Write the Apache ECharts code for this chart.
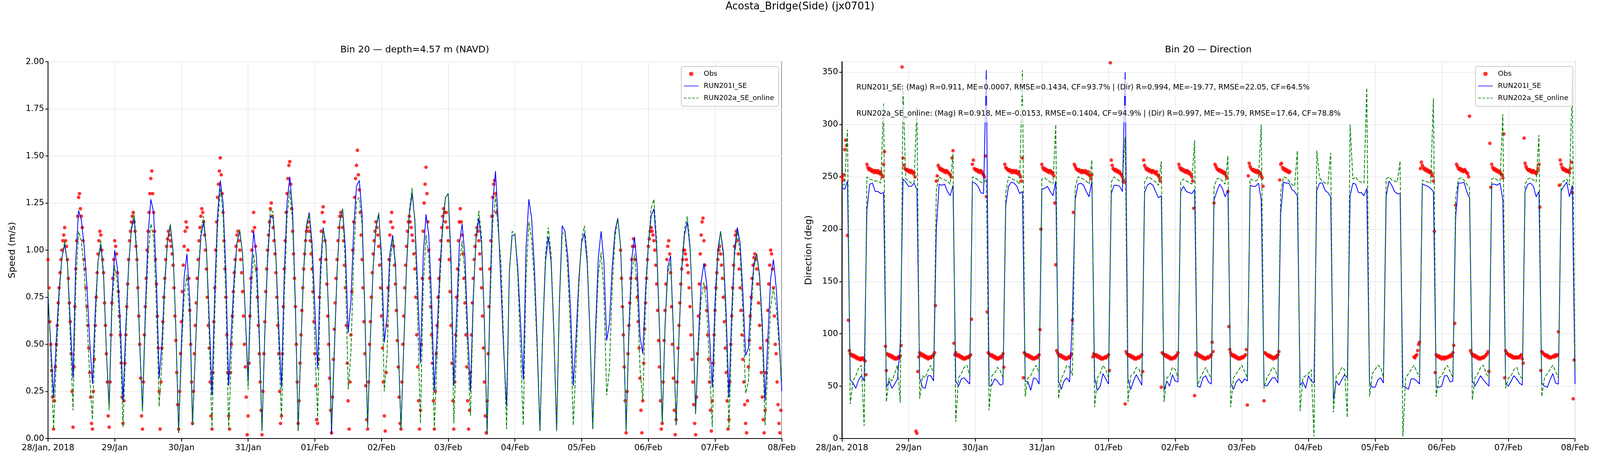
<!DOCTYPE html>
<html>
<head>
<meta charset="utf-8">
<title>Acosta_Bridge(Side) (jx0701)</title>
<script src="https://cdn.jsdelivr.net/npm/echarts@6/dist/echarts.min.js"></script>
<style>
  html, body { margin: 0; padding: 0; background: #fff; width: 100%; height: 100%; overflow: hidden; }
  #chart { width: 100vw; height: 100vh; }
</style>
</head>
<body>
<div id="chart"></div>
<script>
// x axis = hours since 28/Jan/2018 00:00, one tick per day
const tickLabels = ['28/Jan, 2018', '29/Jan', '30/Jan', '31/Jan', '01/Feb', '02/Feb',
  '03/Feb', '04/Feb', '05/Feb', '06/Feb', '07/Feb', '08/Feb'];

// model output, hourly (h0 .. h264)
const run201Speed = [
  .75,.5,.22,.53,.79,.96,1.03,.93,.62,.32,.95,1.21,
  1.16,1.02,.81,.52,.29,.68,.94,1.03,.86,.46,.17,.74,
  1.0,.9,.62,.2,.59,.92,1.11,1.17,.96,.5,.15,.67,
  1.08,1.27,1.2,.85,.32,.51,.83,1.05,1.13,.99,.58,.03,
  .51,.86,.98,.74,.07,.45,.83,1.07,1.15,1.01,.64,.23,
  .78,1.19,1.37,1.25,.88,.28,.58,.86,1.04,1.1,.98,.66,
  .3,.85,1.1,.96,.57,.04,.55,.94,1.18,1.17,.97,.6,
  .27,.87,1.25,1.39,1.21,.72,.04,.5,.9,1.13,1.2,1.04,
  .7,.37,.9,1.12,1.03,.64,.02,.45,.88,1.15,1.22,1.01,
  .56,.73,1.12,1.34,1.37,1.19,.68,.06,.54,.91,1.12,1.19,
  .97,.51,.65,.98,1.08,.93,.51,.05,.49,.91,1.19,1.3,
  1.16,.8,.4,.97,1.19,1.08,.74,.25,.57,.9,1.14,1.28,
  1.3,.96,.28,.66,1.03,1.14,.97,.57,.25,.75,1.06,1.17,
  1.03,.62,.02,.75,1.25,1.42,1.15,.8,.45,.17,.89,1.08,
  1.08,.91,.62,.31,1.01,1.27,1.17,.91,.51,.04,.56,.94,
  1.07,.94,.56,.04,.73,1.13,1.1,.97,.69,.28,.54,.85,
  1.04,1.09,.93,.55,.05,.58,.96,1.1,.94,.52,.61,.91,
  1.1,1.17,1.02,.61,.04,.58,.95,1.07,.91,.54,.45,.79,
  1.03,1.18,1.22,1.01,.58,.08,.6,.91,.97,.58,.07,.53,
  .89,1.08,1.15,1.01,.66,.13,.52,.83,.93,.82,.55,.27,
  .73,1.0,1.1,.99,.66,.22,.67,1.0,1.12,1.04,.78,.44,
  .48,.76,.93,.98,.87,.61,.2,.53,.85,.95,.8,.55,
  .25
];
const run202Speed = [
  .8,.45,.05,.42,.75,.96,1.05,.93,.54,.15,.82,1.1,
  1.05,.89,.65,.33,.1,.59,.94,1.05,.88,.47,.15,.68,
  .92,.82,.51,.06,.52,.9,1.13,1.2,.98,.52,.14,.61,
  .97,1.14,1.07,.71,.17,.41,.79,1.05,1.14,1.0,.59,.03,
  .45,.76,.87,.65,.07,.46,.85,1.1,1.18,1.01,.55,.05,
  .66,1.12,1.33,1.19,.75,.05,.44,.8,1.04,1.11,.98,.64,
  .26,.75,.98,.86,.51,.04,.57,.98,1.22,1.2,.96,.5,
  .1,.75,1.17,1.32,1.15,.68,.04,.5,.89,1.12,1.19,.97,
  .52,.1,.81,1.11,1.02,.66,.06,.48,.89,1.15,1.22,.91,
  .26,.46,.97,1.26,1.28,1.13,.65,.06,.54,.91,1.13,1.2,
  .9,.25,.45,.92,1.06,.91,.5,.05,.5,.93,1.21,1.33,
  1.14,.63,.08,.8,1.08,.96,.6,.05,.44,.83,1.11,1.28,
  1.3,.89,.08,.51,.92,1.05,.87,.44,.12,.71,1.07,1.21,
  1.07,.64,.02,.68,1.14,1.29,1.1,.93,.49,.05,.88,1.1,
  1.09,.87,.47,.07,.85,1.15,1.06,.83,.46,.04,.58,.98,
  1.12,.98,.58,.04,.71,1.09,1.09,.89,.56,.07,.41,.81,
  1.06,1.13,.97,.57,.05,.52,.87,.99,.78,.23,.37,.8,
  1.07,1.17,1.02,.61,.04,.53,.87,.98,.8,.37,.2,.72,
  1.03,1.22,1.27,1.05,.6,.08,.58,.88,.94,.56,.07,.55,
  .91,1.11,1.18,1.03,.67,.13,.47,.74,.83,.7,.39,.06,
  .64,.97,1.1,.96,.58,.05,.58,.96,1.1,.99,.68,.24,
  .3,.68,.91,.98,.85,.55,.07,.39,.7,.8,.7,.5,
  .3
];
// one line per ebb / flood phase
const run201Dir = [
  240,238,246,
  56,53,48,56,60,55,
  218,243,244,236,236,234,235,
  49,55,48,52,57,89,
  248,245,241,241,244,238,
  58,49,48,60,60,55,
  200,243,242,243,236,232,242,
  55,50,57,58,55,52,
  245,244,241,235,234,352,
  50,51,57,55,51,52,
  223,241,245,244,241,234,236,
  55,54,46,58,57,52,
  238,239,241,236,232,246,
  55,47,55,58,54,118,
  228,243,244,242,236,231,246,
  58,46,50,62,57,52,
  234,242,242,241,236,350,
  57,47,55,61,56,51,
  235,242,244,242,236,230,232,
  46,55,50,61,55,54,
  236,241,236,235,234,238,
  50,49,58,60,54,52,
  228,236,243,239,231,237,
  53,47,54,57,53,57,55,
  242,241,241,244,228,
  51,50,54,58,58,53,
  215,245,244,244,238,236,232,
  51,54,48,60,55,53,
  237,244,244,237,235,231,
  37,55,51,56,61,58,
  232,244,243,235,235,232,239,
  53,49,49,56,58,53,
  232,246,242,236,234,234,
  50,49,47,57,57,55,52,
  243,242,241,239,236,
  49,49,50,60,60,54,55,
  211,244,244,245,236,230,
  55,50,55,60,56,53,50,
  243,243,242,244,228,
  53,50,55,60,57,53,51,
  236,243,244,241,231,236,
  53,50,49,56,62,53,52,
  237,241,245,231,242,
  52
];
const run202Dir = [
  242,243,295,
  33,55,60,67,70,12,
  250,248,247,246,246,244,320,
  35,58,55,62,70,34,
  333,248,246,244,245,317,
  38,60,58,65,70,62,
  238,250,248,247,246,243,272,
  16,58,62,68,70,60,
  250,249,247,245,244,248,
  27,60,62,68,65,58,
  235,250,249,247,246,243,352,
  40,58,60,66,70,62,
  248,249,247,245,243,300,
  38,57,63,70,68,60,
  240,250,249,248,246,243,266,
  30,58,62,70,66,58,
  245,250,248,246,245,288,
  35,60,62,68,66,58,
  245,250,249,247,245,242,265,
  35,58,60,68,66,58,
  245,248,246,245,243,285,
  50,58,63,68,62,58,
  240,248,249,246,243,270,
  30,58,62,66,70,64,58,
  248,247,246,248,300,
  48,58,62,68,66,58,
  235,250,249,246,243,241,275,
  26,58,60,62,66,2,
  275,249,246,244,243,273,
  25,60,62,68,66,20,
  300,248,250,246,245,244,335,
  40,62,66,70,68,58,
  248,250,247,246,245,265,
  2,58,62,66,70,64,58,
  247,246,245,244,325,
  40,58,60,66,70,64,58,
  230,248,249,247,243,240,
  37,58,62,68,70,62,58,
  248,249,247,246,310,
  48,58,60,66,68,60,57,
  243,248,249,247,245,290,
  40,58,62,66,70,64,58,
  245,246,248,242,340,
  65
];

// ADCP observations every 20 min, two records (gap 03/Feb 17h .. 05/Feb 14h)
const obsStepHours = 1 / 3;
const obsStartA = 0;
const obsStartB = 206;
const obsSpeedA = [
  .95,.8,.62,.5,.36,.22,.05,.2,.38,.5,.6,.72,
  .8,.88,.95,1.0,1.05,1.08,1.12,1.05,1.02,.95,.85,.72,
  .62,.45,.25,.06,.38,.7,.9,1.05,1.18,1.28,1.3,1.22,
  1.18,1.12,1.05,.95,.9,.8,.7,.6,.48,.35,.22,.08,
  .05,.25,.42,.6,.75,.88,.98,1.05,1.1,1.08,1.0,.95,
  .88,.72,.6,.45,.3,.12,.06,.3,.55,.72,.85,.95,
  1.05,1.02,.98,.88,.78,.65,.55,.4,.22,.08,.2,.4,
  .55,.7,.82,.95,1.05,1.1,1.15,1.18,1.2,1.15,1.1,1.02,
  .95,.8,.65,.5,.32,.12,.05,.3,.55,.7,.85,1.0,
  1.1,1.2,1.3,1.38,1.42,1.3,1.2,1.1,.95,.82,.65,.48,
  .25,.05,.3,.48,.62,.75,.85,.95,1.02,1.06,1.1,1.08,
  1.05,1.02,.98,.92,.8,.65,.52,.35,.18,.05,.25,.45,
  .62,.78,.92,1.02,1.1,1.15,1.12,1.0,.85,.68,.5,.3,
  .08,.25,.45,.6,.72,.85,.95,1.05,1.12,1.18,1.22,1.2,
  1.15,1.08,1.0,.9,.75,.6,.48,.3,.12,.05,.35,.62,
  .8,1.0,1.15,1.28,1.35,1.42,1.49,1.4,1.3,1.2,1.05,.9,
  .75,.55,.35,.12,.05,.35,.5,.65,.78,.88,.95,1.02,
  1.08,1.1,1.05,1.0,.95,.88,.78,.65,.5,.38,.22,.02,
  .12,.4,.65,.85,1.0,1.1,1.2,1.12,1.02,.9,.75,.6,
  .45,.3,.15,.02,.25,.45,.62,.78,.9,1.0,1.08,1.15,
  1.22,1.25,1.18,1.12,1.05,.98,.88,.75,.6,.45,.25,.08,
  .12,.45,.7,.9,1.05,1.2,1.3,1.38,1.45,1.47,1.35,1.22,
  1.1,.98,.85,.7,.5,.3,.08,.2,.4,.55,.68,.8,
  .9,.98,1.05,1.1,1.12,1.15,1.1,1.05,.98,.9,.78,.62,
  .45,.28,.1,.08,.42,.75,.95,1.1,1.2,1.23,1.15,1.05,
  .95,.82,.65,.5,.32,.15,.03,.22,.42,.58,.72,.85,
  .95,1.05,1.12,1.18,1.2,1.18,1.12,1.05,.92,.8,.6,.4,
  .2,.05,.3,.55,.78,1.0,1.15,1.28,1.38,1.45,1.53,1.4,
  1.32,1.2,1.08,.95,.8,.62,.45,.28,.1,.05,.3,.5,
  .62,.75,.88,.98,1.05,1.1,1.15,1.12,1.08,1.02,.92,.8,
  .65,.48,.3,.12,.04,.35,.6,.8,.95,1.08,1.15,1.2,
  1.12,1.02,.92,.82,.68,.52,.38,.22,.08,.05,.3,.5,
  .65,.8,.92,1.02,1.1,1.15,1.18,1.15,1.12,1.08,1.05,.98,
  .9,.75,.55,.38,.2,.05,.15,.5,.85,1.1,1.25,1.35,
  1.44,1.3,1.15,1.0,.85,.7,.55,.4,.2,.05,.25,.45,
  .6,.75,.85,.95,1.05,1.12,1.18,1.22,1.2,1.15,1.2,1.12,
  1.05,.95,.78,.6,.4,.2,.05,.3,.55,.75,.9,1.05,
  1.15,1.22,1.15,1.08,.98,.85,.72,.55,.38,.2,.05,.15,
  .35,.55,.72,.85,.95,1.02,1.08,1.12,1.1,1.05,.98,.9,
  .8,.65,.48,.3,.12,.03,.2,.45,.7,.9,1.05,1.18,
  1.28,1.35,1.37,1.3,1.2
];
const obsSpeedB = [
  1.0,.85,.7,.55,.38,.2,.03,.25,.45,.6,.72,.85,
  .95,1.02,1.06,1.02,.95,.85,.75,.62,.48,.32,.15,.03,
  .2,.4,.58,.72,.85,.95,1.02,1.06,1.1,1.12,1.1,1.08,
  1.05,1.0,.92,.82,.68,.52,.38,.2,.05,.08,.3,.52,
  .68,.82,.95,1.02,1.05,.98,.88,.7,.5,.32,.15,.02,
  .1,.3,.48,.6,.72,.82,.9,.95,1.0,1.0,.98,.95,
  .92,.88,.8,.7,.55,.42,.3,.18,.08,.02,.22,.45,
  .65,.82,.98,1.08,1.15,1.17,1.05,.92,.8,.68,.55,.42,
  .3,.15,.04,.2,.4,.55,.68,.8,.88,.95,1.0,1.02,
  .98,.92,.85,.75,.62,.48,.35,.2,.05,.1,.3,.5,
  .65,.8,.92,1.02,1.08,1.1,1.05,.98,.9,.8,.68,.55,
  .42,.3,.18,.08,.03,.2,.38,.52,.65,.75,.85,.92,
  .96,.98,.95,.9,.82,.72,.6,.48,.35,.22,.1,.03,
  .15,.35,.52,.68,.82,.92,1.0,.98,.9,.8,.65,.5,
  .45,.3,.18,.08,.03,.15
];
// one line per ebb / flood phase of the record
const obsDirA = [
  250,247,252,276,285,280,194,
  113,84,81,80,79,80,78,79,77,78,76,77,76,75,77,76,77,75,74,61,
  262,259,257,258,256,257,255,256,254,256,255,254,256,254,253,255,252,250,262,274,
  88,65,81,80,79,80,78,79,77,78,76,77,76,77,78,77,79,89,355,
  268,261,258,257,256,257,255,256,254,256,255,253,254,250,7,5,
  64,78,82,80,81,79,80,78,79,77,78,76,77,78,77,78,79,80,82,127,
  246,251,261,259,257,258,256,257,255,256,254,256,255,254,253,252,250,268,275,
  91,80,82,80,79,80,78,79,77,78,76,77,76,77,78,77,78,79,80,114,
  262,266,258,257,256,257,255,256,254,256,255,253,252,250,270,231,
  121,82,81,80,79,80,78,79,77,78,76,77,76,77,78,77,79,81,68,
  262,259,258,257,256,257,255,256,254,256,255,254,256,254,253,255,252,250,246,268,
  58,82,81,80,79,80,78,79,77,78,76,77,76,77,78,77,79,80,104,
  200,262,259,257,258,256,257,255,256,254,256,255,253,254,251,225,166,
  84,82,80,79,80,78,79,77,78,76,77,76,77,78,77,79,81,113,
  216,262,260,258,257,256,257,255,256,254,256,255,254,256,254,253,255,252,251,248,252,
  78,81,80,79,80,78,79,77,78,76,77,76,77,78,77,78,79,80,65,
  359,266,261,258,257,256,257,255,256,254,255,253,252,250,247,245,
  33,83,81,80,79,80,78,79,77,78,76,77,76,77,78,77,78,79,80,64,
  266,261,259,257,258,256,257,255,256,254,256,255,254,253,255,252,251,249,246,
  49,82,81,80,79,80,78,79,77,78,76,77,76,77,78,77,79,80,82,
  262,259,257,258,256,257,255,256,254,256,255,253,254,252,250,246,220,
  41,80,82,81,79,80,78,79,77,78,76,77,76,77,78,77,78,79,80,92,83,
  225,262,260,258,257,256,257,255,256,254,255,253,254,251,249,236,
  107,85,82,80,79,80,78,79,77,78,76,77,76,77,78,77,78,79,80,85,32,
  251,263,260,258,257,256,257,255,256,254,256,255,253,254,251,249,241,
  36,82,81,80,79,80,78,79,77,78,76,77,78,77,79,80,83,
  247,262,263,259,257,258,256,257,255,256,254,255
];
const obsDirB = [
  78,77,79,80,84,90,92,
  258,264,261,259,257,258,256,257,255,256,254,255,253,251,246,198,
  63,80,79,78,79,77,78,76,77,78,76,77,78,77,78,79,78,80,79,82,89,110,
  223,262,260,258,257,258,256,257,255,256,257,255,254,253,250,308,
  84,82,80,79,80,78,79,77,78,76,77,76,77,78,77,78,79,80,81,83,64,
  282,240,262,259,257,258,256,257,255,256,254,255,253,252,249,291,
  58,84,82,81,80,79,80,78,79,77,78,77,78,77,78,77,78,79,80,76,72,
  287,263,260,258,257,256,257,255,256,254,256,255,254,253,255,258,262,221,
  65,83,82,81,80,79,80,78,79,77,78,77,78,78,79,78,80,79,80,102,
  242,266,262,259,257,258,256,257,255,256,255,254,258,264,235,
  38,75
];

const statsLines = [
  'RUN201I_SE: (Mag) R=0.911, ME=0.0007, RMSE=0.1434, CF=93.7% | (Dir) R=0.994, ME=-19.77, RMSE=22.05, CF=64.5%',
  'RUN202a_SE_online: (Mag) R=0.918, ME=-0.0153, RMSE=0.1404, CF=94.9% | (Dir) R=0.997, ME=-15.79, RMSE=17.64, CF=78.8%'
];

const FONT = 'DejaVu Sans';
const hourly = arr => arr.map((v, i) => [i, v]);
const sampled = (arr, start) => arr.map((v, i) => [start + i * obsStepHours, v]);

const obsSpeed = sampled(obsSpeedA, obsStartA).concat(sampled(obsSpeedB, obsStartB));
const obsDir = sampled(obsDirA, obsStartA).concat(sampled(obsDirB, obsStartB));

const el = document.getElementById('chart');
const W = el.clientWidth || 5000;
const H = el.clientHeight || 1200;
// layout below is measured on a 5000 x 1200 figure; scale it to the real viewport
const sx = W / 5000;
const sy = H / 1200;
const sf = Math.min(sx, sy);
const X = v => v * sx;
const Y = v => v * sy;
const F = v => Math.round(v * sf * 10) / 10;

const chart = echarts.init(el);

// legend samples: solid / dashed bar, with tiny corner squares fixing the icon box
const boxCorners = 'M0,0h0.01v0.01h-0.01z M45.99,10.99h0.01v0.01h-0.01z';
const solidIcon = 'path://M0,4.5h46v2h-46z ' + boxCorners;
const dashedIcon = 'path://M0,4.5h9v2h-9z M13,4.5h9v2h-9z M26,4.5h9v2h-9z M39,4.5h7v2h-7z ' + boxCorners;

const xAxisBase = gridIndex => ({
  type: 'value',
  gridIndex,
  min: 0,
  max: 264,
  interval: 24,
  axisLine: { show: true, onZero: false, lineStyle: { color: '#000', width: 2 } },
  axisTick: { show: true, length: Y(8), lineStyle: { color: '#000', width: 2 } },
  axisLabel: {
    color: '#000', fontSize: F(26), fontFamily: FONT, margin: Y(14),
    formatter: v => tickLabels[Math.round(v / 24)] || '',
  },
  splitLine: { show: true, lineStyle: { color: '#ebebeb', width: 2 } },
});

const yAxisBase = (gridIndex, min, max, interval, name, nameGap, fmt) => ({
  type: 'value',
  gridIndex,
  min,
  max,
  interval,
  name,
  nameLocation: 'middle',
  nameGap: X(nameGap),
  nameTextStyle: { color: '#000', fontSize: F(29), fontFamily: FONT },
  axisLine: { show: true, lineStyle: { color: '#000', width: 2 } },
  axisTick: { show: true, length: X(8), lineStyle: { color: '#000', width: 2 } },
  axisLabel: { color: '#000', fontSize: F(26), fontFamily: FONT, margin: X(12), showMaxLabel: max !== 360, formatter: fmt },
  splitLine: { show: true, lineStyle: { color: '#ebebeb', width: 2 } },
});

const legendBase = left => ({
  left: X(left),
  top: Y(170),
  orient: 'vertical',
  itemWidth: X(46),
  itemHeight: Y(11),
  itemGap: Y(9),
  padding: [Y(8), X(14), Y(10), X(8)],
  borderColor: '#cccccc',
  borderWidth: 2,
  borderRadius: 6,
  backgroundColor: 'rgba(255,255,255,0.85)',
  textStyle: { color: '#000', fontSize: F(22), fontFamily: FONT, lineHeight: Y(22), padding: [0, 0, 0, X(10)] },
  data: [
    { name: 'Obs', icon: 'circle' },
    { name: 'RUN201I_SE', icon: solidIcon },
    { name: 'RUN202a_SE_online', icon: dashedIcon },
  ],
  z: 20,
});

const series = [];
[[obsSpeed, run201Speed, run202Speed], [obsDir, run201Dir, run202Dir]].forEach((set, gi) => {
  series.push({
    name: 'Obs', type: 'scatter', xAxisIndex: gi, yAxisIndex: gi,
    symbol: 'circle', symbolSize: F(11), itemStyle: { color: '#ff0000' },
    data: set[0], clip: true,
  });
  series.push({
    name: 'RUN201I_SE', type: 'line', xAxisIndex: gi, yAxisIndex: gi,
    symbol: 'none', showSymbol: false, lineStyle: { color: '#0000ff', width: 2 },
    itemStyle: { color: '#0000ff' }, data: hourly(set[1]),
  });
  series.push({
    name: 'RUN202a_SE_online', type: 'line', xAxisIndex: gi, yAxisIndex: gi,
    symbol: 'none', showSymbol: false, lineStyle: { color: '#008000', width: 2, type: [9, 4] },
    itemStyle: { color: '#008000' }, data: hourly(set[2]),
  });
});

const titleStyle = size => ({ fontSize: F(size), fontWeight: 'normal', color: '#000', fontFamily: FONT });

const option = {
  animation: false,
  backgroundColor: '#fff',
  title: [
    { text: 'Acosta_Bridge(Side) (jx0701)', left: 'center', top: Y(4), padding: 0, textStyle: titleStyle(32) },
    { text: 'Bin 20 — depth=4.57 m (NAVD)', left: X(1296), textAlign: 'center', top: Y(116), padding: 0, textStyle: titleStyle(29) },
    { text: 'Bin 20 — Direction', left: X(3776), textAlign: 'center', top: Y(116), padding: 0, textStyle: titleStyle(29) },
  ],
  grid: [
    { left: X(150), right: X(2557), top: Y(158), bottom: Y(78), show: true, borderColor: '#000', borderWidth: 2 },
    { left: X(2631), right: X(78), top: Y(158), bottom: Y(78), show: true, borderColor: '#000', borderWidth: 2 },
  ],
  xAxis: [xAxisBase(0), xAxisBase(1)],
  yAxis: [
    yAxisBase(0, 0, 2, 0.25, 'Speed (m/s)', 96, v => v.toFixed(2)),
    yAxisBase(1, 0, 360, 50, 'Direction (deg)', 89, v => String(v)),
  ],
  legend: [legendBase(2129), legendBase(4611)],
  graphic: statsLines.map((t, i) => ({
    type: 'text',
    left: X(2665),
    top: Y(203 + i * 67),
    z: 10,
    style: {
      text: t,
      fill: '#000',
      font: F(23) + 'px "DejaVu Sans"',
      backgroundColor: 'rgba(255,255,255,0.7)',
      padding: [Y(12), X(10), Y(12), X(11)],
    },
  })),
  series,
};

chart.setOption(option);
</script>
</body>
</html>
